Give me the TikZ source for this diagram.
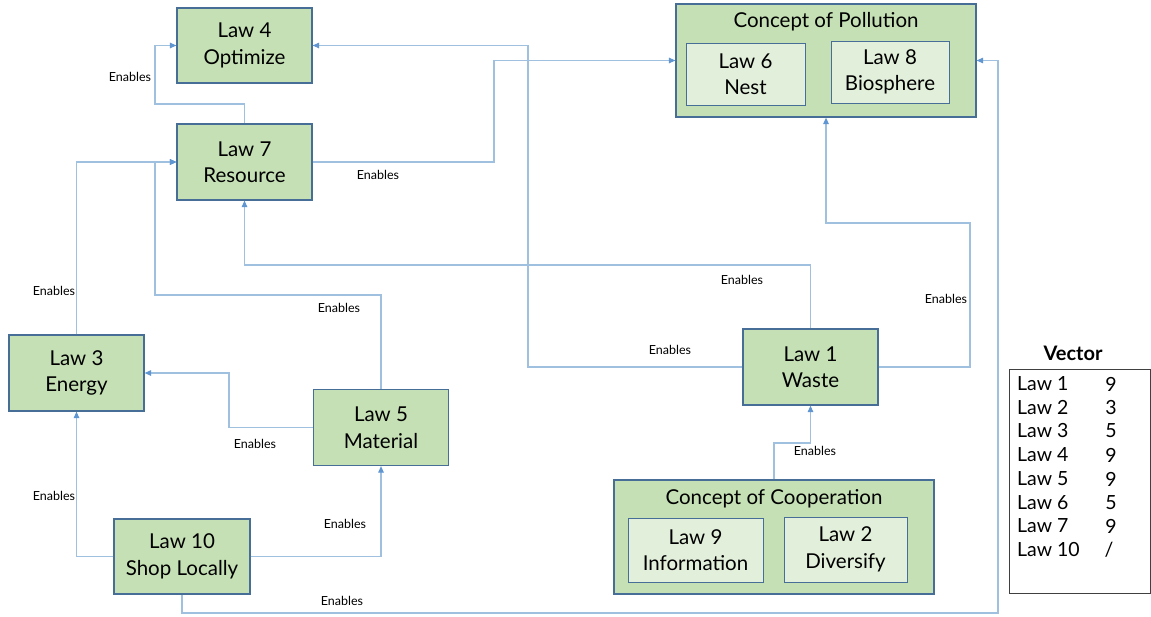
\documentclass[tikz,border=0pt]{standalone}
\usepackage{fontspec}
\setmainfont{Lato}
\usetikzlibrary{arrows.meta}
\definecolor{boxfill}{RGB}{197,224,180}
\definecolor{innerfill}{RGB}{226,239,218}
\definecolor{boxline}{RGB}{70,110,150}
\definecolor{wire}{RGB}{160,192,224}
\definecolor{tipblue}{RGB}{95,150,210}
\tikzset{
  law/.style={draw=boxline, line width=1.2pt, fill=boxfill, align=center,
    font=\fontsize{20.5}{26.5}\selectfont, inner sep=0pt},
  sublaw/.style={draw=boxline, line width=1pt, fill=innerfill, align=center,
    font=\fontsize{20.5}{26.5}\selectfont, inner sep=0pt},
  concept/.style={draw=boxline, line width=1.2pt, fill=boxfill, inner sep=0pt},
  ctitle/.style={font=\fontsize{20.5}{24}\selectfont, inner sep=0pt},
  link/.style={draw=wire, line width=1.1pt,
    -{Triangle[length=6.5pt,width=5.5pt,color=tipblue]}},
  lbl/.style={font=\fontsize{12.5}{14}\selectfont, inner sep=0pt},
  vrow/.style={font=\fontsize{19.5}{22}\selectfont, inner sep=0pt, anchor=west},
  vnum/.style={font=\fontsize{19.5}{22}\selectfont, inner sep=0pt}
}
\begin{document}
\begin{tikzpicture}[x=1pt,y=-1pt]
\useasboundingbox[fill=white] (0,0) rectangle (1151,616);

% main law boxes
\node[law, minimum width=135, minimum height=75] (law4) at (244.5,45.5) {Law 4\\Optimize};
\node[law, minimum width=135, minimum height=76] (law7) at (244.5,162) {Law 7\\Resource};
\node[law, minimum width=135, minimum height=76] (law3) at (76.5,373) {Law 3\\Energy};
\node[law, minimum width=135, minimum height=76] (law5) at (381,427.5) {Law 5\\Material};
\node[law, minimum width=136, minimum height=75] (law10) at (182,556.5) {Law 10\\Shop Locally};
\node[law, minimum width=135, minimum height=76] (law1) at (810.5,367) {Law 1\\Waste};

% concept of pollution
\node[concept, minimum width=300, minimum height=113] (poll) at (826,60.5) {};
\node[ctitle] (polltitle) at (826,22) {Concept of Pollution};
\node[sublaw, minimum width=119, minimum height=62] (law6) at (745.5,74) {Law 6\\Nest};
\node[sublaw, minimum width=118, minimum height=62] (law8) at (890,72) {Law 8\\Biosphere};

% concept of cooperation
\node[concept, minimum width=320, minimum height=114] (coop) at (774,537) {};
\node[ctitle] (cooptitle) at (774,499) {Concept of Cooperation};
\node[sublaw, minimum width=135, minimum height=64] (law9) at (695.5,550) {Law 9\\Information};
\node[sublaw, minimum width=123, minimum height=65] (law2) at (845.5,549.5) {Law 2\\Diversify};

% connectors
\draw[link] (law7.north) -- (244.5,104) -| (155,45.5) -- (law4.west);
\draw[link] (law3.north) |- (law7.west);
\draw[link] (law5.north) |- (155,295) |- (law7.west);
\draw[link] (law5.west) -- (229,427.5) |- (law3.east);
\draw[link] (law10.west) -| (law3.south);
\draw[link] (law10.east) -| (law5.south);
\draw[link] (law10.south) |- (998,613) |- (poll.east);
\draw[link] (law7.east) -| (494,100) |- (poll.west);
\draw[link] (law1.west) -| (528,200) |- (law4.east);
\draw[link] (law1.north) |- (400,265) -| (law7.south);
\draw[link] (law1.east) -| (970,300) |- (826,223) -- (poll.south);
\draw[link] (coop.north) -- (774,443) -| (law1.south);

% connector labels
\node[lbl] (e1) at (130,77) {Enables};
\node[lbl] (e2) at (54,291) {Enables};
\node[lbl] (e3) at (339,308) {Enables};
\node[lbl] (e4) at (255,444) {Enables};
\node[lbl] (e5) at (54,496) {Enables};
\node[lbl] (e6) at (345,524) {Enables};
\node[lbl] (e7) at (342,601) {Enables};
\node[lbl] (e8) at (378,175) {Enables};
\node[lbl] (e9) at (670,350) {Enables};
\node[lbl] (e10) at (742,280) {Enables};
\node[lbl] (e11) at (946,299) {Enables};
\node[lbl] (e12) at (815,451) {Enables};

% vector table
\node[font=\bfseries\fontsize{20}{22}\selectfont, inner sep=0pt] (vtitle) at (1073,353) {Vector};
\node[draw=black!75, line width=0.8pt, minimum width=141, minimum height=224, inner sep=0pt] (vbox) at (1079.5,481) {};
\node[vrow] (r1) at (1017,384) {Law 1};  \node[vnum] (n1) at (1111,384) {9};
\node[vrow] (r2) at (1017,407.5) {Law 2};  \node[vnum] (n2) at (1111,407.5) {3};
\node[vrow] (r3) at (1017,431) {Law 3};  \node[vnum] (n3) at (1111,431) {5};
\node[vrow] (r4) at (1017,455) {Law 4};  \node[vnum] (n4) at (1111,455) {9};
\node[vrow] (r5) at (1017,479) {Law 5};  \node[vnum] (n5) at (1111,479) {9};
\node[vrow] (r6) at (1017,502.5) {Law 6};  \node[vnum] (n6) at (1111,502.5) {5};
\node[vrow] (r7) at (1017,526) {Law 7};  \node[vnum] (n7) at (1111,526) {9};
\node[vrow] (r8) at (1017,550) {Law 10}; \node[vnum] (n8) at (1109,550) {/};
\end{tikzpicture}
\end{document}
